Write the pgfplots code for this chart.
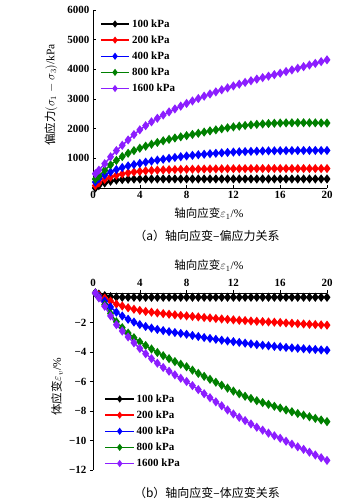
\documentclass[border=0pt]{standalone}
\usepackage{pgfplots}
\pgfplotsset{compat=1.18}
\usepackage{pgfplotstable}
\usepackage{fontspec}
\setmainfont{Liberation Serif}
\newfontfamily\cjk{Noto Sans CJK SC}
\definecolor{myred}{RGB}{255,0,0}
\definecolor{myblue}{RGB}{0,0,255}
\definecolor{mygreen}{RGB}{0,128,0}
\definecolor{mypurple}{RGB}{140,30,255}

\pgfplotstableread{
x a b c d e
0.2 0 80 200 300 480
0.5 80 170 310 400 600
1.0 170 290 440 600 820
1.5 230 370 540 780 1050
2.0 265 430 620 930 1260
2.5 285 475 690 1060 1440
3.0 295 510 745 1170 1620
3.5 300 540 790 1260 1800
4.0 302 560 830 1340 1960
4.5 303 578 870 1410 2100
5.0 304 592 905 1475 2230
5.5 305 602 940 1535 2350
6.0 305 610 970 1590 2460
6.5 305 617 1000 1640 2565
7.0 305 622 1030 1685 2665
7.5 305 627 1055 1725 2760
8.0 305 630 1080 1765 2850
8.5 305 634 1100 1805 2935
9.0 305 637 1120 1845 3015
9.5 305 640 1138 1885 3095
10.0 305 642 1155 1925 3170
10.5 305 644 1170 1960 3240
11.0 305 646 1185 1995 3310
11.5 305 648 1198 2030 3375
12.0 305 650 1210 2060 3440
12.5 305 651 1220 2085 3500
13.0 305 652 1228 2108 3560
13.5 305 653 1235 2128 3615
14.0 305 654 1242 2145 3670
14.5 305 654 1248 2160 3720
15.0 305 655 1252 2172 3770
15.5 305 655 1255 2182 3820
16.0 305 655 1258 2190 3870
16.5 305 655 1260 2195 3925
17.0 305 655 1262 2198 3980
17.5 305 655 1263 2200 4035
18.0 305 655 1264 2200 4090
18.5 305 655 1265 2198 4145
19.0 305 655 1265 2196 4200
19.5 305 655 1265 2193 4260
20.0 305 655 1265 2190 4320
}\topdata

\pgfplotstableread{
x a b c d e
0.2 0 0 0 0 0
0.5 -0.08 -0.15 -0.22 -0.3 -0.33
1.0 -0.18 -0.35 -0.55 -0.8 -0.9
1.5 -0.25 -0.55 -0.95 -1.4 -1.55
2.0 -0.28 -0.75 -1.3 -1.95 -2.15
2.5 -0.29 -0.88 -1.56 -2.35 -2.58
3.0 -0.29 -1.0 -1.78 -2.72 -2.98
3.5 -0.29 -1.1 -1.97 -3.03 -3.38
4.0 -0.29 -1.18 -2.14 -3.31 -3.76
4.5 -0.29 -1.25 -2.27 -3.56 -4.12
5.0 -0.29 -1.3 -2.38 -3.8 -4.45
5.5 -0.29 -1.35 -2.47 -4.03 -4.76
6.0 -0.29 -1.4 -2.55 -4.25 -5.05
6.5 -0.29 -1.44 -2.62 -4.45 -5.3
7.0 -0.29 -1.48 -2.68 -4.65 -5.55
7.5 -0.29 -1.52 -2.74 -4.83 -5.78
8.0 -0.29 -1.55 -2.8 -5.0 -6.0
8.5 -0.29 -1.59 -2.88 -5.23 -6.28
9.0 -0.29 -1.62 -2.95 -5.45 -6.55
9.5 -0.29 -1.66 -3.02 -5.65 -6.83
10.0 -0.29 -1.69 -3.08 -5.85 -7.1
10.5 -0.29 -1.73 -3.14 -6.05 -7.38
11.0 -0.29 -1.76 -3.2 -6.25 -7.65
11.5 -0.29 -1.79 -3.25 -6.45 -7.93
12.0 -0.29 -1.82 -3.3 -6.65 -8.2
12.5 -0.29 -1.85 -3.35 -6.83 -8.43
13.0 -0.29 -1.87 -3.4 -7.0 -8.65
13.5 -0.29 -1.9 -3.45 -7.15 -8.88
14.0 -0.29 -1.92 -3.5 -7.3 -9.1
14.5 -0.29 -1.94 -3.54 -7.43 -9.3
15.0 -0.29 -1.96 -3.58 -7.55 -9.5
15.5 -0.29 -1.98 -3.62 -7.68 -9.68
16.0 -0.29 -2.0 -3.65 -7.8 -9.85
16.5 -0.29 -2.03 -3.69 -7.93 -10.05
17.0 -0.29 -2.05 -3.72 -8.05 -10.25
17.5 -0.29 -2.08 -3.75 -8.17 -10.43
18.0 -0.29 -2.1 -3.78 -8.28 -10.6
18.5 -0.29 -2.12 -3.81 -8.39 -10.79
19.0 -0.29 -2.14 -3.83 -8.5 -10.98
19.5 -0.29 -2.16 -3.86 -8.61 -11.17
20.0 -0.29 -2.18 -3.88 -8.72 -11.35
}\botdata

\pgfplotsset{
  mystyle/.style={
    scale only axis, width=234pt,
    xmin=0, xmax=20,
    xtick={0,4,8,12,16,20}, xticklabels={0,4,8,12,16,20},
    axis line style={-, line width=0.6pt},
    tick style={line width=0.6pt, black},
    major tick length=3pt,
    tick label style={font=\fontsize{11}{13}\selectfont\bfseries},
    clip=false,
    legend style={draw=none, fill=none, font=\fontsize{11}{13}\selectfont\bfseries, row sep=3pt, inner sep=1pt},
    legend cell align=left,
    legend image code/.code={\draw[mark repeat=2,mark phase=2, mark size=2.4pt] plot coordinates {(0cm,0cm) (0.5cm,0cm) (1cm,0cm)};},
    every axis plot/.append style={line width=1.5pt, mark=diamond*, mark size=3.4pt},
  }
}

\begin{document}
\begin{tikzpicture}
\path[use as bounding box] (0pt,0pt) rectangle (355pt,503pt);

\begin{axis}[mystyle, at={(93pt,315pt)}, anchor=south west, height=178pt,
  ymin=0, ymax=6000, ytick={1000,2000,3000,4000,5000,6000},
  yticklabels={1000,2000,3000,4000,5000,6000},
  axis x line*=bottom, axis y line*=left, tick align=inside,
  legend style={at={(0.025,0.965)}, anchor=north west}]
\addplot[black, mark options={solid, fill=black}] table[x=x, y=a] {\topdata};
\addlegendentry{100 kPa}
\addplot[myred, mark options={solid, fill=myred}] table[x=x, y=b] {\topdata};
\addlegendentry{200 kPa}
\addplot[myblue, mark options={solid, fill=myblue}] table[x=x, y=c] {\topdata};
\addlegendentry{400 kPa}
\addplot[mygreen, mark options={solid, fill=mygreen}] table[x=x, y=d] {\topdata};
\addlegendentry{800 kPa}
\addplot[mypurple, mark options={solid, fill=mypurple}] table[x=x, y=e] {\topdata};
\addlegendentry{1600 kPa}
\end{axis}

\begin{axis}[mystyle, at={(93pt,33pt)}, anchor=south west, height=177pt,
  ymin=-12, ymax=0, ytick={-2,-4,-6,-8,-10,-12},
  yticklabels={−2,−4,−6,−8,−10,−12},
  axis x line*=top, axis y line*=left, tick align=outside,
  legend style={at={(0.045,0.445)}, anchor=north west}]
\addplot[black, mark options={solid, fill=black}] table[x=x, y=a] {\botdata};
\addlegendentry{100 kPa}
\addplot[myred, mark options={solid, fill=myred}] table[x=x, y=b] {\botdata};
\addlegendentry{200 kPa}
\addplot[myblue, mark options={solid, fill=myblue}] table[x=x, y=c] {\botdata};
\addlegendentry{400 kPa}
\addplot[mygreen, mark options={solid, fill=mygreen}] table[x=x, y=d] {\botdata};
\addlegendentry{800 kPa}
\addplot[mypurple, mark options={solid, fill=mypurple}] table[x=x, y=e] {\botdata};
\addlegendentry{1600 kPa}
\end{axis}

\node[rotate=90, font=\fontsize{11.5}{13}\selectfont] at (51pt,408pt) {{\cjk 偏应力}$(\sigma_1-\sigma_3)$/kPa};
\node[font=\fontsize{11.5}{13}\selectfont] at (209pt,289pt) {{\cjk 轴向应变}$\varepsilon_1$/\%};
\node[font=\fontsize{12}{14}\selectfont] at (207pt,267pt) {\cjk （a）轴向应变–偏应力关系};
\node[font=\fontsize{11.5}{13}\selectfont] at (209pt,237pt) {{\cjk 轴向应变}$\varepsilon_1$/\%};
\node[rotate=90, font=\fontsize{11.5}{13}\selectfont] at (57pt,116pt) {{\cjk 体应变}$\varepsilon_v$/\%};
\node[font=\fontsize{12}{14}\selectfont] at (207pt,10pt) {\cjk （b）轴向应变–体应变关系};
\end{tikzpicture}
\end{document}
